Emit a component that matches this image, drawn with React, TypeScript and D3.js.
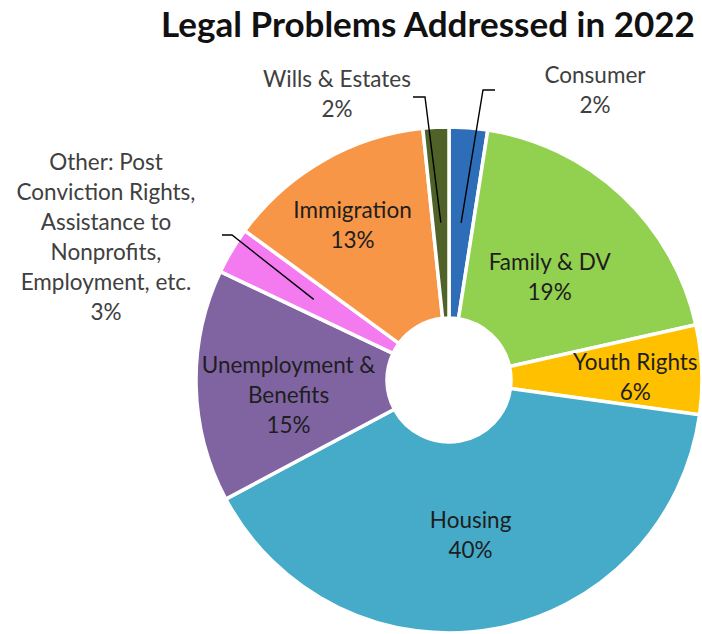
import React from "react";
import * as d3 from "d3";

const categories = [
  "Consumer",
  "Family & DV",
  "Youth Rights",
  "Housing",
  "Unemployment & Benefits",
  "Other: Post Conviction Rights, Assistance to Nonprofits, Employment, etc.",
  "Immigration",
  "Wills & Estates",
];
const values = [2.45, 19.05, 5.7, 40.0, 14.85, 3.0, 13.3, 1.65];
const colors = ["#2E6DB8", "#92D050", "#FFC000", "#45ABC8", "#8064A2", "#F47AF0", "#F79646", "#4F6228"];
const labelLines = [
  ["Consumer"],
  ["Family & DV"],
  ["Youth Rights"],
  ["Housing"],
  ["Unemployment &", "Benefits"],
  ["Other: Post", "Conviction Rights,", "Assistance to", "Nonprofits,", "Employment, etc."],
  ["Immigration"],
  ["Wills & Estates"],
];
const title = "Legal Problems Addressed in 2022";

// layout (not data)
const W = 702, H = 634;
const CX = 449, CY = 380, R_OUT = 253, R_IN = 62;
const FONT = "Lato, 'Open Sans', sans-serif";
const FS = 22.5;
const LH = 30;
// inside label nudges [dx, dy] relative to arc centroid
const insideNudge: Record<number, [number, number]> = {
  1: [-7, 12],
  2: [29, 4],
  3: [-6, 0],
  4: [-3, 12],
  6: [-18, -18],
};
// outside labels: text center, leader start, elbow
const outside: Record<number, { x: number; y: number; start: [number, number]; elbow: [number, number] }> = {
  0: { x: 595, y: 90, start: [495, 90], elbow: [483, 90] },
  7: { x: 337, y: 94, start: [413, 97], elbow: [425, 97] },
  5: { x: 106, y: 237, start: [222, 235], elbow: [232, 235] },
};

export default function App() {
  const pie = d3.pie<number>().sort(null).value((d) => d).startAngle(0).endAngle(2 * Math.PI);
  const arcs = pie(values);
  const arc = d3.arc<d3.PieArcDatum<number>>().innerRadius(R_IN).outerRadius(R_OUT);

  return (
    <svg
      width={W}
      height={H}
      style={{ position: "absolute", left: 0, top: 0, background: "#fff" }}
      fontFamily={FONT}
    >
      <rect x={0} y={0} width={W} height={H} fill="#fff" />
      <text x={428} y={37} textAnchor="middle" fontSize={35} fontWeight={700} fill="#111">
        {title}
      </text>
      <g transform={`translate(${CX},${CY})`}>
        {arcs.map((a, i) => (
          <path key={categories[i]} d={arc(a) || ""} fill={colors[i]} stroke="#fff" strokeWidth={3.5} />
        ))}
      </g>
      {arcs.map((a, i) => {
        const [cx, cy] = arc.centroid(a);
        const pct = `${Math.round(values[i])}%`;
        const lines = [...labelLines[i], pct];
        const o = outside[i];
        if (o) {
          const top = o.y - ((lines.length - 1) * LH) / 2;
          return (
            <g key={"l" + i}>
              <path
                d={`M${o.start[0]},${o.start[1]}L${o.elbow[0]},${o.elbow[1]}L${CX + cx},${CY + cy}`}
                fill="none"
                stroke="#000"
                strokeWidth={1.4}
              />
              <text textAnchor="middle" fontSize={FS} fill="#404040">
                {lines.map((t, k) => (
                  <tspan key={k} x={o.x} y={top + k * LH + 7.5}>
                    {t}
                  </tspan>
                ))}
              </text>
            </g>
          );
        }
        const nd = insideNudge[i] || [0, 0];
        const x = CX + cx + nd[0];
        const yc = CY + cy + nd[1];
        const top = yc - ((lines.length - 1) * LH) / 2;
        return (
          <text key={"l" + i} textAnchor="middle" fontSize={FS} fill="#1e1e1e">
            {lines.map((t, k) => (
              <tspan key={k} x={x} y={top + k * LH + 7.5}>
                {t}
              </tspan>
            ))}
          </text>
        );
      })}
    </svg>
  );
}
